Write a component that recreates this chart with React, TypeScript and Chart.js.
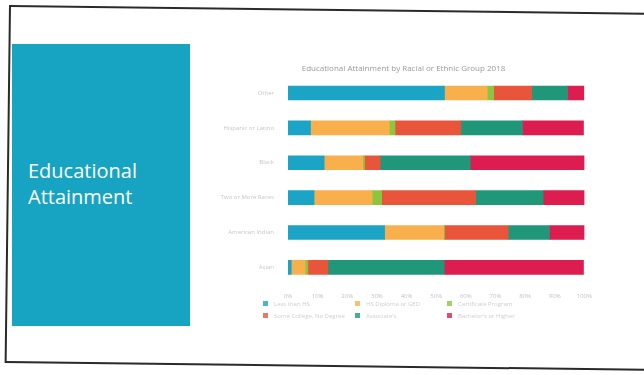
import React, { useEffect, useRef } from "react";
import { Chart, registerables } from "chart.js";

Chart.register(...registerables);

const categories = ["Other", "Hispanic or Latino", "Black", "Two or More Races", "American Indian", "Asian"];
const seriesNames = [
  "Less than HS",
  "HS Diploma or GED",
  "Certificate Program",
  "Some College, No Degree",
  "Associate's",
  "Bachelor's or Higher",
];
const lessThanHS = [52.8, 7.6, 12.2, 8.8, 32.6, 1.1];
const hsDiploma = [14.4, 26.6, 13.0, 19.6, 19.9, 4.7];
const certificate = [2.2, 1.9, 0.6, 3.2, 0.3, 0.9];
const someCollege = [12.8, 22.2, 5.3, 31.7, 21.5, 6.8];
const associates = [12.1, 20.8, 30.4, 22.8, 13.9, 39.2];
const bachelors = [5.6, 20.6, 38.8, 14.0, 11.9, 47.0];
const xTicks = [0, 10, 20, 30, 40, 50, 60, 70, 80, 90, 100];
const colors = ["#1ba4c6", "#f9b04c", "#8cc63f", "#e8553b", "#21977a", "#dd1c4f"];

const seriesValues = [lessThanHS, hsDiploma, certificate, someCollege, associates, bachelors];

export default function App() {
  const ref = useRef<HTMLCanvasElement>(null);
  useEffect(() => {
    if (!ref.current) return;
    const chart = new Chart(ref.current, {
      type: "bar",
      data: {
        labels: categories,
        datasets: seriesNames.map((n, i) => ({
          label: n,
          data: seriesValues[i],
          backgroundColor: colors[i],
          borderWidth: 0,
          barThickness: 14,
        })),
      },
      options: {
        indexAxis: "y",
        animation: false,
        responsive: false,
        layout: { padding: { right: 0, top: 0, bottom: 0, left: 0 } },
        plugins: {
          legend: { display: false },
          tooltip: { enabled: false },
          title: {
            display: true,
            text: "Educational Attainment by Racial or Ethnic Group 2018",
            color: "#9a9a9a",
            font: { size: 8, family: "Open Sans", weight: "normal" },
            padding: { top: 7, bottom: 2 },
          },
        },
        scales: {
          x: {
            stacked: true,
            min: 0,
            max: 100,
            afterBuildTicks: (axis: any) => {
              axis.ticks = xTicks.map((v) => ({ value: v }));
            },
            ticks: {
              color: "#c4c4c4",
              font: { size: 6, family: "Open Sans" },
              callback: (v: any) => v + "%",
              padding: 0,
            },
            grid: { display: false },
            border: { display: false },
          },
          y: {
            stacked: true,
            afterFit: (axis: any) => {
              axis.width = 73;
            },
            ticks: {
              color: "#c8c8c8",
              font: { size: 6, family: "Open Sans" },
              padding: 6,
            },
            grid: { display: false },
            border: { display: false },
          },
        },
      },
    });
    return () => chart.destroy();
  }, []);

  return (
    <div style={{ position: "fixed", left: 0, top: 0, width: 644, height: 375, background: "#fff", overflow: "hidden" }}>
      <div
        style={{
          position: "absolute",
          left: 9,
          top: 5,
          width: 700,
          height: 358,
          border: "2px solid #2a2a2a",
          transform: "rotate(0.7deg)",
          transformOrigin: "0 0",
          boxSizing: "border-box",
        }}
      />
      <div
        style={{
          position: "absolute",
          left: 12,
          top: 44,
          width: 178,
          height: 282,
          background: "#17a3c2",
        }}
      />
      <div
        style={{
          position: "absolute",
          left: 28,
          top: 158,
          color: "#fff",
          fontFamily: "Open Sans",
          fontSize: 20,
          lineHeight: "26px",
        }}
      >
        Educational
        <br />
        Attainment
      </div>
      <canvas ref={ref} width={377} height={243} style={{ position: "absolute", left: 215, top: 57 }} />
      <div
        style={{
          position: "absolute",
          left: 263,
          top: 299,
          display: "grid",
          gridTemplateColumns: "92px 92px 92px",
          rowGap: 3,
          fontFamily: "Open Sans",
          fontSize: 6,
          color: "#cfcfcf",
        }}
      >
        {seriesNames.map((n, i) => (
          <div key={n} style={{ display: "flex", alignItems: "center", height: 9 }}>
            <span style={{ width: 5, height: 5, background: colors[i], display: "inline-block", marginRight: 6, opacity: 0.8 }} />
            {n}
          </div>
        ))}
      </div>
    </div>
  );
}
